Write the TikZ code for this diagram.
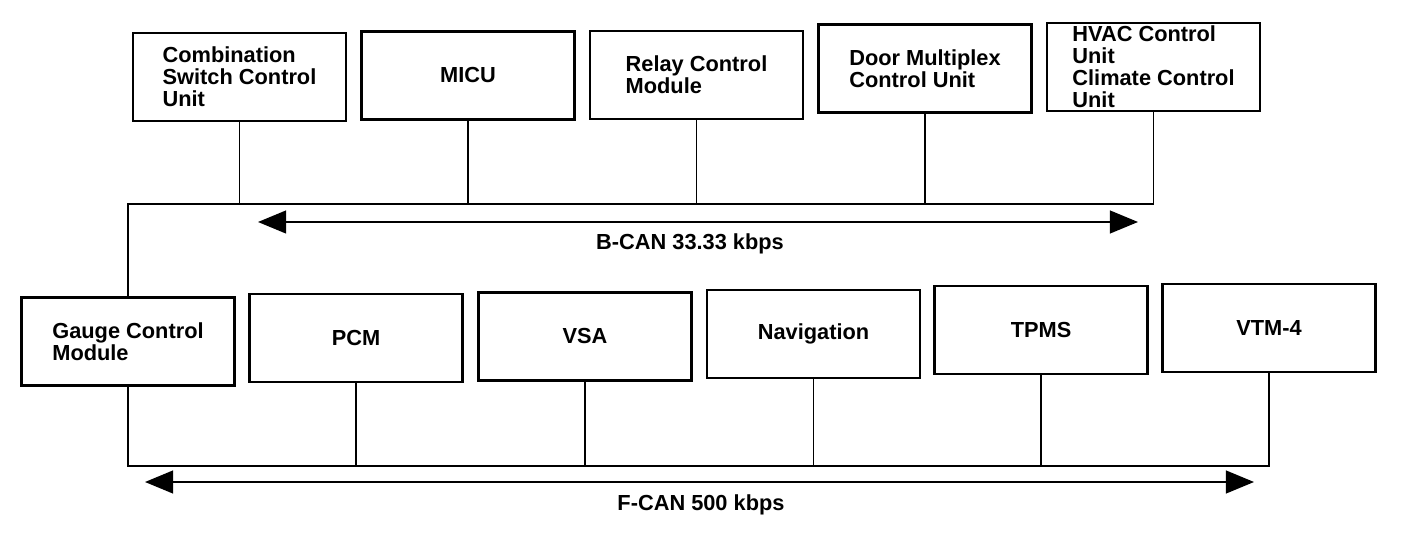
\documentclass[tikz,border=0pt]{standalone}
\usepackage{fontspec}
\setmainfont{Liberation Sans}
\usetikzlibrary{arrows.meta}
\begin{document}
\begin{tikzpicture}[x=0.02cm,y=-0.02cm,
  ecu/.style={draw,line width=1.5pt,minimum width=4.26cm,minimum height=1.76cm,inner sep=0pt,align=left,font=\bfseries\fontsize{12.4}{12.5}\selectfont},
  wire/.style={line width=0.9pt},
  canbus/.style={line width=1pt,{Triangle[length=16pt,width=13pt]}-{Triangle[length=16pt,width=13pt]}},
  lbl/.style={font=\bfseries\fontsize{12.4}{12.5}\selectfont}]
\useasboundingbox (0,0) rectangle (1408,536);
% top row
\node[ecu] (csu) at (239.5,77) {Combination\\Switch Control\\Unit};
\node[ecu] (micu) at (468,75.5) {MICU};
\node[ecu] (rcm) at (696.5,75) {Relay Control\\Module};
\node[ecu] (dmcu) at (925,68.5) {Door Multiplex\\Control Unit};
\node[ecu] (hvac) at (1153.5,67) {HVAC Control\\Unit\\Climate Control\\Unit};
% bottom row
\node[ecu] (gcm) at (128,341.5) {Gauge Control\\Module};
\node[ecu] (pcm) at (356,338) {PCM};
\node[ecu] (vsa) at (585,336.5) {VSA};
\node[ecu] (nav) at (813.5,334) {Navigation};
\node[ecu] (tpms) at (1041,330) {TPMS};
\node[ecu] (vtm) at (1269,328) {VTM-4};
% B-CAN bus
\coordinate (bl) at (0,204);
\draw[wire] (gcm.north) -- (gcm.north |- bl) -- (hvac.south |- bl) -- (hvac.south);
\foreach \n in {csu,micu,rcm,dmcu} \draw[wire] (\n.south) -- (\n.south |- bl);
% F-CAN bus
\coordinate (fl) at (0,466);
\draw[wire] (gcm.south) -- (gcm.south |- fl) -- (vtm.south |- fl) -- (vtm.south);
\foreach \n in {pcm,vsa,nav,tpms} \draw[wire] (\n.south) -- (\n.south |- fl);
% arrows and labels
\coordinate (bA) at (258,222);
\coordinate (bB) at (1138,222);
\draw[canbus] (bA) -- (bB);
\node[lbl] (bcan) at (690,244) {B-CAN 33.33 kbps};
\coordinate (fA) at (145,482);
\coordinate (fB) at (1254,482);
\draw[canbus] (fA) -- (fB);
\node[lbl] (fcan) at (701,505) {F-CAN 500 kbps};
\end{tikzpicture}
\end{document}
